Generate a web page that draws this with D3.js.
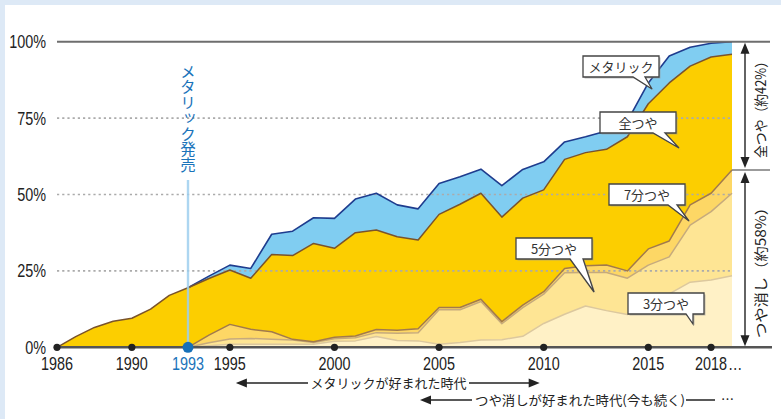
<!DOCTYPE html>
<html>
<head>
<meta charset="utf-8">
<script src="https://cdn.jsdelivr.net/npm/d3@7"></script>
<style>
body { margin: 0; background: #dde9f6; }
svg { display: block; }
</style>
</head>
<body>
<script>
// years on the x axis (one point per year)
var years = [1986, 1987, 1988, 1989, 1990, 1991, 1992, 1993, 1994, 1995,
             1996, 1997, 1998, 1999, 2000, 2001, 2002, 2003, 2004, 2005,
             2006, 2007, 2008, 2009, 2010, 2011, 2012, 2013, 2014, 2015,
             2016, 2017, 2018, 2019];

// share of each finish (%)
var bun3  = [0, 0, 0, 0, 0, 0, 0, 0, 0.5, 1.0,
             1.0, 1.0, 1.0, 1.0, 2.0, 2.1, 3.5, 2.2, 2.1, 1.0,
             1.6, 2.4, 2.5, 3.6, 7.8, 10.8, 13.5, 12.0, 10.7, 14.7,
             17.5, 21.3, 22.0, 23.4];
var bun5  = [0, 0, 0, 0, 0, 0, 0, 0, 1.0, 1.7,
             1.9, 1.6, 1.4, 0.6, 0.8, 1.0, 1.3, 2.4, 2.7, 11.3,
             10.7, 12.6, 5.2, 9.4, 9.6, 13.6, 11.0, 12.5, 11.9, 12.2,
             12.1, 18.7, 22.4, 27.0];
var bun7  = [0, 0, 0, 0, 0, 0, 0, 0, 2.5, 4.8,
             3.0, 2.5, 0.2, 0.2, 0.5, 0.6, 1.0, 1.0, 1.3, 0.7,
             0.7, 0.7, 0.7, 0.8, 0.8, 1.4, 2.2, 2.4, 2.4, 5.3,
             5.2, 6.6, 6.0, 7.6];
var zen   = [0, 3.5, 6.5, 8.5, 9.5, 12.5, 17.0, 19.5, 18.5, 17.8,
             16.7, 25.3, 27.4, 32.2, 29.1, 33.8, 32.6, 30.6, 29.0, 30.5,
             33.8, 34.7, 34.2, 35.0, 33.3, 35.7, 37.0, 37.9, 43.9, 47.5,
             51.7, 45.4, 44.6, 37.9];
var metal = [0, 0, 0, 0, 0, 0, 0, 0, 0.8, 1.6,
             3.2, 6.6, 8.0, 8.4, 9.8, 11.0, 12.0, 10.4, 10.2, 10.1,
             9.0, 7.9, 10.3, 9.4, 9.2, 5.7, 5.2, 6.0, 5.1, 6.8,
             8.8, 6.2, 4.5, 4.1];

var keys = ["3分つや", "5分つや", "7分つや", "全つや", "メタリック"];
var tickYears  = [1986, 1990, 1993, 1995, 2000, 2005, 2010, 2015, 2018];
var tickLabels = ["1986", "1990", "1993", "1995", "2000", "2005", "2010", "2015", "2018"];
var yTicks = [0, 25, 50, 75, 100];
var yTickLabels = ["0%", "25%", "50%", "75%", "100%"];
var releaseYear = 1993;

var fills = {"3分つや": "#fff1c6", "5分つや": "#fee594", "7分つや": "#fdd765",
             "全つや": "#fcce00", "メタリック": "#80cdf1"};
var strokes = {"3分つや": "#dcc89e", "5分つや": "#c6aa7c", "7分つや": "#a27a4b",
               "全つや": "#7a532b", "メタリック": "#1e3c8e"};

var numFont = "'Liberation Sans', Arial, sans-serif";
var jpFont = "'Noto Sans CJK JP', sans-serif";
var squeeze = 0.8;   // the numbers in the original are set in a condensed face

var table = years.map(function (yr, i) {
  var row = {year: yr};
  row["3分つや"] = bun3[i];
  row["5分つや"] = bun5[i];
  row["7分つや"] = bun7[i];
  row["全つや"] = zen[i];
  row["メタリック"] = metal[i];
  return row;
});
var layers = d3.stack().keys(keys)(table);

var svg = d3.select("body").append("svg")
            .attr("width", 781)
            .attr("height", 419);

svg.append("rect").attr("width", 781).attr("height", 419).attr("fill", "#dde9f6");
svg.append("rect").attr("x", 5).attr("y", 5).attr("width", 776).attr("height", 414).attr("fill", "#fff");

var x = d3.scaleLinear().domain([1986, 1993, 2019]).range([57, 188, 732]);
var y = d3.scaleLinear().domain([0, 100]).range([347.3, 41.7]);

var area = d3.area()
             .x(function (d) { return x(d.data.year); })
             .y0(function (d) { return y(d[0]); })
             .y1(function (d) { return y(d[1]); });

svg.selectAll("path.layer")
   .data(layers)
   .enter()
   .append("path")
   .attr("class", "layer")
   .attr("d", area)
   .attr("fill", function (d) { return fills[d.key]; });

// dotted grid lines sit over the areas
svg.selectAll("line.grid")
   .data([25, 50, 75])
   .enter()
   .append("line")
   .attr("class", "grid")
   .attr("x1", x(1986)).attr("x2", x(2019))
   .attr("y1", function (d) { return y(d); })
   .attr("y2", function (d) { return y(d); })
   .attr("stroke", "#ababab")
   .attr("stroke-width", 1.6)
   .attr("stroke-dasharray", "2.2,3");

// top edge of each layer
var lineOrder = ["3分つや", "5分つや", "7分つや", "メタリック", "全つや"];
lineOrder.forEach(function (k) {
  var layer = layers.filter(function (l) { return l.key === k; })[0];
  var ln = d3.line()
             .defined(function (d) { return k === "全つや" || d.data.year >= releaseYear; })
             .x(function (d) { return x(d.data.year); })
             .y(function (d) { return y(d[1]); });
  svg.append("path")
     .attr("d", ln(layer))
     .attr("fill", "none")
     .attr("stroke", strokes[k])
     .attr("stroke-width", k === "メタリック" ? 1.6 : 1.5)
     .attr("stroke-linejoin", "round");
});

// 100% line and the 58% split on the right
svg.append("line").attr("x1", 57).attr("x2", 770)
   .attr("y1", y(100)).attr("y2", y(100))
   .attr("stroke", "#6e6e6e").attr("stroke-width", 2);
svg.append("line").attr("x1", x(2019)).attr("x2", 770)
   .attr("y1", y(58)).attr("y2", y(58))
   .attr("stroke", "#7a7a7a").attr("stroke-width", 1.5);

// metallic release marker
svg.append("line").attr("x1", x(releaseYear)).attr("x2", x(releaseYear))
   .attr("y1", 180).attr("y2", y(0))
   .attr("stroke", "#9fd0ef").attr("stroke-width", 2.4).attr("opacity", 0.85);
svg.append("text")
   .attr("x", x(releaseYear)).attr("y", 64)
   .style("writing-mode", "vertical-rl")
   .attr("font-family", jpFont)
   .attr("font-size", 15.5)
   .attr("fill", "#1a73ba")
   .text("メタリック発売");

svg.append("line").attr("x1", 57).attr("x2", 772)
   .attr("y1", y(0)).attr("y2", y(0))
   .attr("stroke", "#555").attr("stroke-width", 2.5);

// y labels
svg.selectAll("text.ylab")
   .data(yTicks)
   .enter()
   .append("text")
   .attr("class", "ylab")
   .attr("transform", function (d) { return "translate(46," + (y(d) + 6.5) + ") scale(" + squeeze + ",1)"; })
   .attr("text-anchor", "end")
   .attr("font-family", numFont)
   .attr("font-size", 18)
   .attr("fill", "#222")
   .text(function (d, i) { return yTickLabels[i]; });

// x ticks
svg.selectAll("circle.tick")
   .data(tickYears)
   .enter()
   .append("circle")
   .attr("class", "tick")
   .attr("cx", function (d) { return x(d); })
   .attr("cy", y(0))
   .attr("r", function (d) { return d === releaseYear ? 5.5 : 3.6; })
   .attr("fill", function (d) { return d === releaseYear ? "#1670b8" : "#222"; });

svg.selectAll("text.xlab")
   .data(tickYears)
   .enter()
   .append("text")
   .attr("class", "xlab")
   .attr("transform", function (d) { return "translate(" + x(d) + ",370) scale(" + squeeze + ",1)"; })
   .attr("text-anchor", "middle")
   .attr("font-family", numFont)
   .attr("font-size", 18)
   .attr("fill", function (d) { return d === releaseYear ? "#1a73ba" : "#222"; })
   .text(function (d, i) { return tickLabels[i]; });
svg.append("text")
   .attr("transform", "translate(" + (x(2018) + 17) + ",370) scale(" + squeeze + ",1)")
   .attr("font-family", numFont)
   .attr("font-size", 18)
   .attr("fill", "#222")
   .text("…");

// arrow heads
function arrowHead(tx, ty, dir, w, h) {
  var p;
  if (dir === "l") p = [[tx, ty], [tx + h, ty - w / 2], [tx + h, ty + w / 2]];
  if (dir === "r") p = [[tx, ty], [tx - h, ty - w / 2], [tx - h, ty + w / 2]];
  if (dir === "u") p = [[tx, ty], [tx - w / 2, ty + h], [tx + w / 2, ty + h]];
  if (dir === "d") p = [[tx, ty], [tx - w / 2, ty - h], [tx + w / 2, ty - h]];
  svg.append("path").attr("d", "M" + p.join("L") + "Z").attr("fill", "#222");
}

// era arrows under the axis
var row1 = 383, row2 = 400;
svg.append("line").attr("x1", x(1995) + 8).attr("x2", x(2010) - 8)
   .attr("y1", row1).attr("y2", row1).attr("stroke", "#222").attr("stroke-width", 1.5);
arrowHead(x(1995) + 6, row1, "l", 9, 11);
arrowHead(x(2010) - 4, row1, "r", 9, 11);
svg.append("rect").attr("x", 308).attr("y", row1 - 9).attr("width", 161).attr("height", 18).attr("fill", "#fff");
svg.append("text").attr("x", 388.5).attr("y", row1 + 5)
   .attr("text-anchor", "middle")
   .attr("font-family", jpFont).attr("font-size", 13).attr("fill", "#222")
   .text("メタリックが好まれた時代");

svg.append("line").attr("x1", 428).attr("x2", 715)
   .attr("y1", row2).attr("y2", row2).attr("stroke", "#222").attr("stroke-width", 1.5);
arrowHead(420, row2, "l", 9, 11);
svg.append("rect").attr("x", 472).attr("y", row2 - 9).attr("width", 214).attr("height", 18).attr("fill", "#fff");
svg.append("text").attr("x", 475).attr("y", row2 + 5)
   .attr("font-family", jpFont).attr("font-size", 13).attr("fill", "#222")
   .attr("textLength", 210).attr("lengthAdjust", "spacingAndGlyphs")
   .text("つや消しが好まれた時代(今も続く)");
svg.append("text").attr("x", 721).attr("y", row2 + 4)
   .attr("font-family", jpFont).attr("font-size", 13).attr("fill", "#222")
   .text("…");

// right-hand bracket
var bx = 745;
svg.append("line").attr("x1", bx).attr("x2", bx).attr("y1", y(100) + 4).attr("y2", y(58) - 6)
   .attr("stroke", "#222").attr("stroke-width", 1.4);
svg.append("line").attr("x1", bx).attr("x2", bx).attr("y1", y(58) + 6).attr("y2", y(0) - 4)
   .attr("stroke", "#222").attr("stroke-width", 1.4);
arrowHead(bx, y(100) + 1, "u", 9, 11);
arrowHead(bx, y(58) - 2, "d", 9, 11);
arrowHead(bx, y(58) + 2, "u", 9, 11);
arrowHead(bx, y(0) - 1, "d", 9, 11);

svg.append("text")
   .attr("transform", "translate(766,106.5) rotate(-90)")
   .attr("text-anchor", "middle")
   .attr("font-family", jpFont).attr("font-size", 14).attr("fill", "#222")
   .attr("textLength", 103).attr("lengthAdjust", "spacingAndGlyphs")
   .text("全つや（約42%）");
svg.append("text")
   .attr("transform", "translate(766,269) rotate(-90)")
   .attr("text-anchor", "middle")
   .attr("font-family", jpFont).attr("font-size", 14).attr("fill", "#222")
   .attr("textLength", 138).attr("lengthAdjust", "spacingAndGlyphs")
   .text("つや消し（約58%）");

// callouts: box top-left, tail base on the bottom edge, tail tip
var callouts = [
  {label: "メタリック", bx: 583, by: 56,  bl: 633, br: 645, tip: [652, 89]},
  {label: "全つや",     bx: 600, by: 112, bl: 653, br: 665, tip: [679, 148]},
  {label: "7分つや",    bx: 609, by: 184, bl: 668, br: 677, tip: [689, 221]},
  {label: "5分つや",    bx: 516, by: 238, bl: 570, br: 583, tip: [594, 292]},
  {label: "3分つや",    bx: 628, by: 293, bl: 686, br: 693, tip: [693, 324]}
];
var cw = 76, ch = 21;
function calloutPath(c) {
  return "M" + c.bx + "," + c.by + "H" + (c.bx + cw) + "V" + (c.by + ch) +
         "H" + c.br + "L" + c.tip[0] + "," + c.tip[1] + "L" + c.bl + "," + (c.by + ch) +
         "H" + c.bx + "Z";
}
var cg = svg.selectAll("g.callout").data(callouts).enter().append("g").attr("class", "callout");
cg.append("path")
  .attr("d", calloutPath)
  .attr("transform", "translate(1.5,1.5)")
  .attr("fill", "#9a9a9a").attr("opacity", 0.6);
cg.append("path")
  .attr("d", calloutPath)
  .attr("fill", "#fff").attr("stroke", "#444").attr("stroke-width", 1.3);
cg.append("text")
  .attr("x", function (d) { return d.bx + cw / 2; })
  .attr("y", function (d) { return d.by + 15.5; })
  .attr("text-anchor", "middle")
  .attr("font-family", jpFont).attr("font-size", 13).attr("fill", "#333")
  .text(function (d) { return d.label; });
</script>
</body>
</html>
